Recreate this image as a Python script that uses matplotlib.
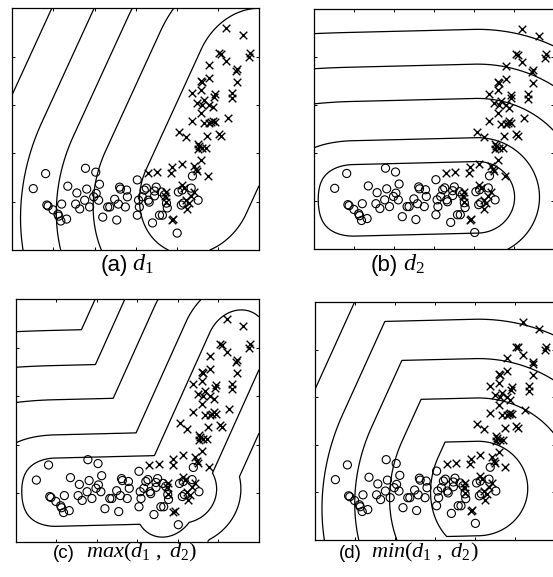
import numpy as np
import matplotlib
matplotlib.use('Agg')
import matplotlib.pyplot as plt

plt.rcParams['mathtext.fontset'] = 'custom'
plt.rcParams['mathtext.rm'] = 'Liberation Serif'
plt.rcParams['mathtext.it'] = 'Liberation Serif:italic'

# ---------------- data ----------------
circle_x = [0.51, 0.81, 0.84, 0.87, 0.99, 1.11, 1.13, 1.18, 1.20, 1.32, 1.35, 1.57, 1.54, 1.64,
            1.76, 1.81, 1.78, 2.03, 1.88, 1.98, 2.10, 2.12, 2.20, 2.32, 2.37, 2.49, 2.54, 2.58,
            2.61, 2.63, 2.78, 2.80, 2.75, 3.04, 3.07, 3.04, 3.09, 3.16, 3.26, 3.31, 3.33, 3.41,
            3.46, 3.46, 3.58, 3.65, 3.75, 3.77, 3.70, 3.50, 4.01, 4.04, 4.11, 4.16, 4.13, 4.35,
            4.38, 4.52, 3.21, 3.63, 2.04]
circle_y = [1.27, 1.58, 0.93, 0.91, 0.83, 0.74, 0.70, 0.60, 0.95, 0.64, 1.32, 1.18, 0.95, 0.85,
            1.03, 1.26, 1.69, 1.61, 0.89, 1.10, 1.03, 1.36, 0.68, 0.89, 0.89, 1.05, 0.62, 0.95,
            1.30, 1.26, 1.24, 1.10, 0.89, 1.45, 1.03, 0.72, 0.89, 1.10, 1.28, 1.03, 0.99, 0.56,
            1.22, 1.12, 0.72, 0.72, 0.97, 0.87, 1.14, 1.30, 0.35, 1.20, 0.93, 0.97, 1.24, 1.28,
            1.53, 1.03, 1.24, 1.20, 1.17]

cross_x = [5.20, 5.61, 5.03, 5.08, 5.20, 5.78, 5.76, 4.79, 5.46, 5.44, 4.59, 4.62, 4.79, 5.46,
           4.38, 4.59, 4.93, 4.91, 5.34, 5.34, 4.67, 4.50, 4.62, 4.79, 4.88, 4.59, 4.38, 4.84,
           4.88, 4.79, 4.93, 4.67, 5.25, 4.06, 4.23, 4.74, 5.03, 5.08, 4.52, 4.54, 4.52, 4.62,
           4.71, 4.59, 4.13, 3.89, 3.87, 4.42, 4.47, 4.50, 4.76, 3.29, 3.53, 3.75, 4.13, 4.18,
           4.42, 4.23, 4.30, 4.25, 3.75, 3.89, 3.92, 3.72, 4.35]
cross_y = [4.59, 4.44, 4.07, 4.05, 3.90, 4.07, 3.99, 3.82, 3.74, 3.70, 3.49, 3.47, 3.55, 3.47,
           3.24, 3.31, 3.22, 3.16, 3.24, 3.14, 3.10, 3.04, 3.00, 3.00, 2.95, 2.83, 2.67, 2.64,
           2.67, 2.62, 2.64, 2.62, 2.73, 2.44, 2.33, 2.36, 2.40, 2.36, 2.19, 2.15, 2.09, 2.11,
           2.11, 1.86, 1.78, 1.71, 1.59, 1.74, 1.67, 1.63, 1.53, 1.59, 1.61, 1.20, 1.34, 1.28,
           1.20, 1.03, 0.97, 0.85, 0.99, 0.62, 0.64, 1.12, 1.12]

x_ticks = [1, 2, 3, 4, 5]
y_ticks = [1, 2, 3, 4]

# distance models: distance to a class segment (ends may be stretched)
d1_start, d1_end = (4.475, 1.215), (5.811, 3.694)     # crosses, panels (a), (d)
d1c_start, d1c_end = (3.72, 0.82), (5.46, 4.05)       # crosses, panel (c)
d1_stretch = 1.2
d2_start, d2_end = (0.988, 1.02), (4.074, 1.083)      # circles
d2_stretch_lo, d2_soft_lo, d2_stretch_hi = 1.0, 50.0, 1.05

# contour levels per panel
levels_a = [54, 98, 133, 167, 205]
levels_b = [36, 60, 99.5, 134, 169]
levels_c_d1 = [30, 56, 91, 121, 148]
levels_c_d2 = [34, 57, 92, 126, 161]
levels_d_d1 = [62, 102, 136, 168, 204]
levels_d_d2 = [48, 92, 132, 172, 212]

captions = [('(a)', r'$d_{\mathit{1}}$'),
            ('(b)', r'$d_{\mathit{2}}$'),
            ('(c)', r'$\mathit{max(d_{1}\ ,\ d_{2})}$'),
            ('(d)', r'$\mathit{min(d_{1}\ ,\ d_{2})}$')]

# ---------------- helpers ----------------
SX, SY = 40.5, 48.3


def seg_field(X, Y, p0, p1, s_lo, s_hi, soft_lo=None):
    px, py = X * SX, Y * SY
    ax_, ay_ = p0[0] * SX, p0[1] * SY
    bx_, by_ = p1[0] * SX, p1[1] * SY
    L = np.hypot(bx_ - ax_, by_ - ay_)
    ux, uy = (bx_ - ax_) / L, (by_ - ay_) / L
    dx, dy = px - ax_, py - ay_
    t = dx * ux + dy * uy
    perp = -dx * uy + dy * ux
    a_lo = (np.minimum(t, 0.0) / s_lo) ** 2
    if soft_lo is not None:
        a_lo = a_lo / (1.0 + (perp / soft_lo) ** 2)
    a_hi = (np.maximum(t - L, 0.0) / s_hi) ** 2
    return np.sqrt(perp ** 2 + a_lo + a_hi)


def to_index(D, lev):
    n = len(lev)
    xs = [0.0] + list(lev) + [lev[-1] + 1000.0]
    ys = [0.0] + list(range(1, n + 1)) + [n + 1000.0 / (lev[-1] - lev[-2])]
    return np.interp(D, xs, ys)


gx = np.linspace(0, 6, 500)
gy = np.linspace(0, 5, 500)
GX, GY = np.meshgrid(gx, gy)
D1 = seg_field(GX, GY, d1_start, d1_end, d1_stretch, d1_stretch)
D1c = seg_field(GX, GY, d1c_start, d1c_end, d1_stretch, d1_stretch)
D2 = seg_field(GX, GY, d2_start, d2_end, d2_stretch_lo, d2_stretch_hi, d2_soft_lo)

W, H = 553, 577
fig = plt.figure(figsize=(W / 100, H / 100), dpi=100)


def px_axes(left, top, right, bottom):
    return fig.add_axes([left / W, 1 - bottom / H, (right - left) / W, (bottom - top) / H])


boxes = [(12.3, 8.3, 259.0, 250.0),
         (314.3, 9.3, 554.3, 249.3),
         (15.7, 299.0, 259.0, 541.7),
         (315.0, 302.3, 555.0, 540.0)]

fields = [
    (D1, levels_a),
    (D2, levels_b),
    (np.minimum(to_index(D1c, levels_c_d1), to_index(D2, levels_c_d2)), [1, 2, 3, 4, 5]),
    (np.maximum(to_index(D1, levels_d_d1), to_index(D2, levels_d_d2)), [1, 2, 3, 4, 5]),
]

for box, (F, lev) in zip(boxes, fields):
    ax = px_axes(*box)
    ax.contour(GX, GY, F, levels=lev, colors='black', linewidths=0.9)
    ax.scatter(circle_x, circle_y, s=34, facecolors='none', edgecolors='black',
               linewidths=0.8, marker='o', zorder=3)
    ax.scatter(cross_x, cross_y, s=30, c='black', linewidths=1.0, marker='x', zorder=3)
    ax.set_xlim(0, 6)
    ax.set_ylim(0, 5)
    ax.set_xticks(x_ticks)
    ax.set_yticks(y_ticks)
    ax.tick_params(direction='in', length=2.5, width=0.7, top=True, right=True,
                   labelbottom=False, labelleft=False)
    for sp in ax.spines.values():
        sp.set_linewidth(0.9)

# captions: (x of label right edge, x of formula left edge, baseline y, label size, formula size)
cap_pos = [(128, 132, 271, 16, 17.5), (398, 403, 271, 16, 17.5),
           (75, 86, 557.5, 13.5, 16), (362, 371, 557.5, 13.5, 16)]
for (lab, math), (xr, xl, yb, fs1, fs2) in zip(captions, cap_pos):
    fig.text(xr / W, 1 - yb / H, lab, ha='right', va='baseline',
             fontsize=fs1, family='Liberation Sans')
    fig.text(xl / W, 1 - yb / H, math, ha='left', va='baseline', fontsize=fs2)

fig.savefig('out.png', dpi=100)
